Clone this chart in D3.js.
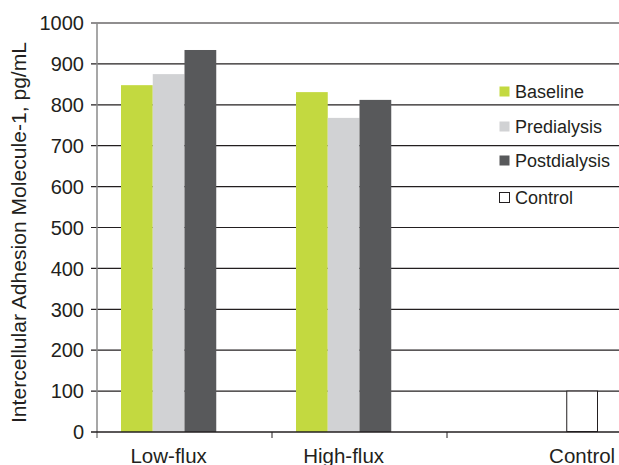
<!DOCTYPE html>
<html><head><meta charset="utf-8">
<script src="https://cdn.jsdelivr.net/npm/d3@7"></script>
<style>body{margin:0;background:#fff}svg{display:block}text{font-family:"Liberation Sans",Arial,sans-serif;fill:#231f20}</style>
</head><body><svg id="c" width="619" height="465"></svg>
<script>
const categories = ["Low-flux", "High-flux", "Control"];
const seriesNames = ["Baseline", "Predialysis", "Postdialysis", "Control"];
const baseline = [848, 831, null];
const predialysis = [875, 768, null];
const postdialysis = [934, 812, null];
const control = [null, null, 100];
const yTicks = [0, 100, 200, 300, 400, 500, 600, 700, 800, 900, 1000];
const colors = ["#c3d940", "#d1d2d4", "#58595b", "#ffffff"];

const seriesVals = [baseline, predialysis, postdialysis, control];
const svg = d3.select("#c");
const y = d3.scaleLinear().domain([0, 1000]).range([432, 23]);
const x = d3.scaleBand().domain(categories).range([97, 622]);
const xi = d3.scaleBand().domain(seriesNames).range([24, 151]);

// gridlines
svg.append("g").selectAll("line").data(yTicks.filter(d => d > 0)).join("line")
  .attr("x1", 91).attr("x2", 619).attr("y1", d => y(d)).attr("y2", d => y(d))
  .attr("stroke", "#231f20").attr("stroke-width", 1.2);

// bars
const rows = [];
categories.forEach((c, i) => seriesNames.forEach((s, j) => {
  const v = seriesVals[j][i];
  if (v != null) rows.push({c, s, v, j});
}));
svg.append("g").selectAll("rect").data(rows).join("rect")
  .attr("x", d => x(d.c) + xi(d.s) + (d.s === "Control" ? 0.5 : 0))
  .attr("width", d => xi.bandwidth() - (d.s === "Control" ? 1 : 0))
  .attr("y", d => y(d.v))
  .attr("height", d => y(0) - y(d.v) - (d.s === "Control" ? 0.5 : 0))
  .attr("fill", d => colors[d.j])
  .attr("stroke", d => d.s === "Control" ? "#231f20" : "none")
  .attr("stroke-width", 1);

// y axis
svg.append("line").attr("x1", 97).attr("x2", 97).attr("y1", 23).attr("y2", 438)
  .attr("stroke", "#8a8a8a").attr("stroke-width", 1.5);
// x axis line
svg.append("line").attr("x1", 91).attr("x2", 619).attr("y1", y(0)).attr("y2", y(0))
  .attr("stroke", "#231f20").attr("stroke-width", 1.3);
// x ticks at band boundaries
svg.append("g").selectAll("line").data(categories.slice(1)).join("line")
  .attr("x1", d => x(d)).attr("x2", d => x(d)).attr("y1", y(0)).attr("y2", 438)
  .attr("stroke", "#231f20").attr("stroke-width", 1);

// y tick labels
svg.append("g").selectAll("text").data(yTicks).join("text")
  .attr("x", 84).attr("y", d => y(d)).attr("dy", "0.36em")
  .attr("text-anchor", "end").attr("font-size", 20).text(d => d);

// x labels centered under the bars present
svg.append("g").selectAll("text").data(categories).join("text")
  .attr("x", c => {
    const r = rows.filter(d => d.c === c);
    return d3.mean(r, d => x(d.c) + xi(d.s) + xi.bandwidth() / 2);
  })
  .attr("y", 463).attr("text-anchor", "middle").attr("font-size", 20.5).text(d => d);

// y title
svg.append("text").attr("transform", "translate(26,232.5) rotate(-90)")
  .attr("text-anchor", "middle").attr("font-size", 21.1)
  .text("Intercellular Adhesion Molecule-1, pg/mL");

// legend
const ly = [92, 127, 161, 198];
const lg = svg.append("g").selectAll("g").data(seriesNames).join("g")
  .attr("transform", (d, i) => `translate(499,${ly[i]})`);
lg.append("rect").attr("x", 0.5).attr("y", -5.5).attr("width", 10).attr("height", 10)
  .attr("fill", (d, i) => colors[i])
  .attr("stroke", d => d === "Control" ? "#231f20" : "none");
lg.append("text").attr("x", 16).attr("dy", "0.36em").attr("font-size", 18).text(d => d);
</script></body></html>
